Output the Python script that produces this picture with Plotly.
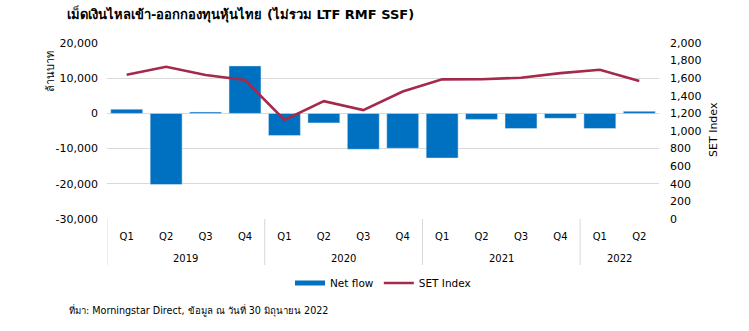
import plotly.graph_objects as go

years = ["2019"] * 4 + ["2020"] * 4 + ["2021"] * 4 + ["2022"] * 2
quarters = ["Q1", "Q2", "Q3", "Q4"] * 3 + ["Q1", "Q2"]
net_flow = [1200, -20200, 400, 13500, -6300, -2700, -10200, -9900,
            -12700, -1700, -4300, -1400, -4300, 600]
set_index = [1638.65, 1730.34, 1637.22, 1579.84, 1125.86, 1339.03, 1237.04, 1449.35,
             1587.21, 1587.79, 1605.68, 1657.62, 1695.24, 1568.33]
left_ticks = [-30000, -20000, -10000, 0, 10000, 20000]
right_ticks = list(range(0, 2001, 200))

title = "เม็ดเงินไหลเข้า-ออกกองทุนหุ้นไทย (ไม่รวม LTF RMF SSF)"
source = "ที่มา: Morningstar Direct, ข้อมูล ณ วันที่ 30 มิถุนายน 2022"

W, H = 749, 331
L, R, T, B = 107, 90, 43, 112
pw, ph = W - L - R, H - T - B

def px(x):
    return (x - L) / pw

def py(y):
    return (H - B - y) / ph

font = "DejaVu Sans, Tahoma, sans-serif"
grid = "#D9D9D9"

cats = [f"{y} {q}" for y, q in zip(years, quarters)]

fig = go.Figure()
fig.add_trace(go.Bar(x=cats, y=net_flow, name="Net flow",
                     marker_color="#0070C0", yaxis="y", showlegend=False))
fig.add_trace(go.Scatter(x=[None], y=[None], name="Net flow", mode="lines",
                         line=dict(color="#0070C0", width=5), showlegend=True))
fig.add_trace(go.Scatter(x=cats, y=set_index, name="SET Index",
                         mode="lines", line=dict(color="#A5294B", width=2.6),
                         yaxis="y2"))

# year group labels and dividers
shapes = []
annotations = []
groups = []
for i, y in enumerate(years):
    if not groups or groups[-1][0] != y:
        groups.append([y, i, i])
    else:
        groups[-1][2] = i
for y, s, e in groups:
    annotations.append(dict(text=y, x=(s + e) / 2, xref="x", y=py(258), yref="paper",
                            showarrow=False, font=dict(size=10), xanchor="center",
                            yanchor="middle"))
    shapes.append(dict(type="line", xref="x", yref="paper", x0=s - 0.5, x1=s - 0.5,
                       y0=0, y1=py(265), line=dict(color=grid, width=1)))

annotations += [
    dict(text="ล้านบาท", x=px(50), y=py(72), xref="paper", yref="paper",
         textangle=-90, showarrow=False, font=dict(size=11), xanchor="center", yanchor="middle"),
    dict(text="SET Index", x=px(713), y=py(130), xref="paper", yref="paper",
         textangle=-90, showarrow=False, font=dict(size=11), xanchor="center", yanchor="middle"),
    dict(text=source, x=px(67), y=py(310), xref="paper", yref="paper",
         showarrow=False, font=dict(size=9.6), xanchor="left", yanchor="middle"),
]

fig.update_layout(
    width=W, height=H,
    margin=dict(l=L, r=R, t=T, b=B),
    paper_bgcolor="white", plot_bgcolor="white",
    font=dict(family=font, size=10, color="#000000"),
    bargap=0.19,
    showlegend=True,
    legend=dict(orientation="h", x=0.5, xanchor="center", y=py(283), yanchor="middle",
                font=dict(size=10.5), itemwidth=30, bgcolor="rgba(0,0,0,0)"),
    xaxis=dict(type="category", showgrid=False, showline=False, zeroline=False,
               tickvals=cats, ticktext=quarters, tickfont=dict(size=10), ticks="",
               ticklabelstandoff=10, range=[-0.5, len(cats) - 0.5]),
    yaxis=dict(range=[-30000, 20000], tickvals=left_ticks,
               ticktext=[f"{v:,}" for v in left_ticks], showgrid=True,
               gridcolor=grid, zeroline=True, zerolinecolor=grid, zerolinewidth=1,
               tickfont=dict(size=11), ticks="", showline=False, ticklabelstandoff=8),
    yaxis2=dict(range=[0, 2000], tickvals=right_ticks,
                ticktext=[f"{v:,}" for v in right_ticks], overlaying="y", side="right",
                showgrid=False, zeroline=False, tickfont=dict(size=11), ticks="",
                showline=False, ticklabelstandoff=10),
    title=dict(text="<b>" + title + "</b>", x=67 / W, xanchor="left", xref="container",
               y=1 - 14 / H, yref="container", yanchor="middle",
               font=dict(size=13, family=font, color="#000000")),
    shapes=shapes,
    annotations=annotations,
)

fig.write_html("out.html")
